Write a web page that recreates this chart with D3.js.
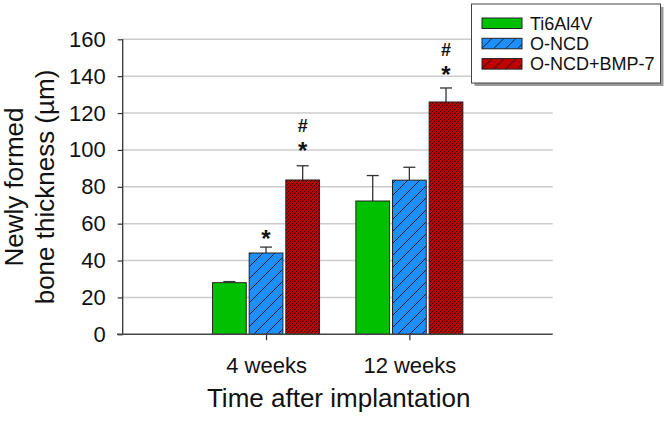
<!DOCTYPE html>
<html>
<head>
<meta charset="utf-8">
<script src="https://cdn.jsdelivr.net/npm/d3@7"></script>
<style>
  html, body { margin: 0; padding: 0; background: #fff; }
  svg { display: block; font-family: "Liberation Sans", Arial, sans-serif; }
</style>
</head>
<body>
<svg id="chart" width="668" height="421"></svg>
<script>
// ---- data ----
const categories = ["4 weeks", "12 weeks"];
const seriesNames = ["Ti6Al4V", "O-NCD", "O-NCD+BMP-7"];
const tiValues = [28.0, 72.3];
const tiErrors = [0.6, 13.8];
const oncdValues = [44.1, 83.6];
const oncdErrors = [3.2, 7.0];
const bmpValues = [83.7, 126.0];
const bmpErrors = [7.7, 7.6];
const yTicks = [0, 20, 40, 60, 80, 100, 120, 140, 160];
// significance markers
const markLabels = ["*", "*", "#", "*", "#"];
const markCategory = ["4 weeks", "4 weeks", "4 weeks", "12 weeks", "12 weeks"];
const markSeries = ["O-NCD", "O-NCD+BMP-7", "O-NCD+BMP-7", "O-NCD+BMP-7", "O-NCD+BMP-7"];
const markValue = [55, 102.7, 113.5, 144.0, 154.4];

const seriesValues = [tiValues, oncdValues, bmpValues];
const seriesErrors = [tiErrors, oncdErrors, bmpErrors];
const colors = ["#00c000", "#1e8fff", "#c00000"];
const patterns = [null, "hatchSparseBlue", "hatchDenseRed"];
const legendPatterns = [null, "hatchSparseBlue", "hatchSparseRed"];

const svg = d3.select("#chart");
const x0 = 122.7, x1 = 552.7, yTop = 39.3, yBot = 334.3;

const x = d3.scaleLinear().domain([0, 3]).range([x0, x1]);
const catPos = d3.scalePoint().domain(categories).range([1, 2]);
const inner = d3.scaleBand().domain(seriesNames).range([-53.5, 53.5]).paddingInner(0.08);
const y = d3.scaleLinear().domain([0, 160]).range([yBot, yTop]);

// patterns
const defs = svg.append("defs");
function hatch(id, color, spacing) {
  const p = defs.append("pattern").attr("id", id)
    .attr("patternUnits", "userSpaceOnUse")
    .attr("width", spacing).attr("height", spacing);
  p.append("rect").attr("width", spacing).attr("height", spacing).attr("fill", color);
  p.append("path")
    .attr("d", `M0,${spacing} L${spacing},0 M${-spacing},${spacing} L0,0 M${spacing},${2*spacing} L${2*spacing},${spacing}`)
    .attr("stroke", "#111").attr("stroke-width", 0.9);
}
hatch("hatchSparseBlue", colors[1], 12);
hatch("hatchDenseRed", colors[2], 4);
hatch("hatchSparseRed", colors[2], 12);

// gridlines
svg.append("g").selectAll("line").data(yTicks.filter(t => t > 0)).join("line")
  .attr("x1", x0).attr("x2", x1)
  .attr("y1", d => y(d)).attr("y2", d => y(d))
  .attr("stroke", "#cccccc").attr("stroke-width", 1.5);

// y axis
const yAxis = d3.axisLeft(y).tickValues(yTicks).tickSize(5).tickSizeOuter(0).tickPadding(12);
const gy = svg.append("g").attr("transform", `translate(${x0},0)`).call(yAxis);
gy.select(".domain").remove();
gy.selectAll(".tick line").attr("stroke", "#333").attr("stroke-width", 1.2);
gy.selectAll(".tick text").attr("font-size", 22).attr("fill", "#111")
  .attr("font-family", "Liberation Sans, Arial, sans-serif");
svg.append("line").attr("x1", x0).attr("x2", x0).attr("y1", yTop).attr("y2", yBot)
  .attr("stroke", "#333").attr("stroke-width", 1.3);

// bars
const barData = [];
seriesNames.forEach((s, si) => {
  categories.forEach((c, ci) => {
    barData.push({ s, si, c, v: seriesValues[si][ci], e: seriesErrors[si][ci] });
  });
});
const bx = d => x(catPos(d.c)) + inner(d.s);

// error bars (drawn behind bars)
const eg = svg.append("g");
eg.selectAll("line.v").data(barData).join("line").attr("class", "v")
  .attr("x1", d => bx(d) + inner.bandwidth() / 2).attr("x2", d => bx(d) + inner.bandwidth() / 2)
  .attr("y1", d => y(d.v)).attr("y2", d => y(d.v + d.e))
  .attr("stroke", "#333").attr("stroke-width", 1.3);
eg.selectAll("line.cap").data(barData).join("line").attr("class", "cap")
  .attr("x1", d => bx(d) + inner.bandwidth() / 2 - 6).attr("x2", d => bx(d) + inner.bandwidth() / 2 + 6)
  .attr("y1", d => y(d.v + d.e)).attr("y2", d => y(d.v + d.e))
  .attr("stroke", "#333").attr("stroke-width", 1.3);

svg.append("g").selectAll("rect").data(barData).join("rect")
  .attr("x", bx)
  .attr("y", d => y(d.v))
  .attr("width", inner.bandwidth())
  .attr("height", d => y(0) - y(d.v))
  .attr("fill", d => patterns[d.si] ? `url(#${patterns[d.si]})` : colors[d.si])
  .attr("stroke", "#222").attr("stroke-width", 1);

// x axis
svg.append("line").attr("x1", 117).attr("x2", x1).attr("y1", yBot).attr("y2", yBot)
  .attr("stroke", "#444").attr("stroke-width", 1.5);
const xAxisScale = d3.scalePoint().domain(categories).range([x(1), x(2)]);
const gx = svg.append("g").attr("transform", `translate(0,${yBot})`)
  .call(d3.axisBottom(xAxisScale).tickSize(6).tickPadding(17).tickSizeOuter(0));
gx.select(".domain").remove();
gx.selectAll(".tick line").attr("stroke", "#333").attr("stroke-width", 1.2);
gx.selectAll(".tick text").attr("font-size", 22).attr("fill", "#111")
  .attr("font-family", "Liberation Sans, Arial, sans-serif");

// markers
const marks = markLabels.map((l, i) => ({ l, c: markCategory[i], s: markSeries[i], v: markValue[i] }));
svg.append("g").selectAll("text").data(marks).join("text")
  .attr("x", d => x(catPos(d.c)) + inner(d.s) + inner.bandwidth() / 2)
  .attr("y", d => y(d.v) + (d.l === "*" ? 13.9 : 6.5))
  .attr("text-anchor", "middle").attr("font-weight", "bold").attr("fill", "#111")
  .attr("font-size", d => d.l === "*" ? 24 : 18)
  .text(d => d.l);

// axis titles
svg.append("text").attr("x", (x0 + x1) / 2 + 1).attr("y", 407)
  .attr("text-anchor", "middle").attr("font-size", 26).attr("fill", "#111")
  .text("Time after implantation");
const yt = svg.append("text").attr("transform", `translate(23,187) rotate(-90)`)
  .attr("text-anchor", "middle").attr("font-size", 26).attr("fill", "#111");
yt.append("tspan").attr("x", 0).attr("y", 0).text("Newly formed");
yt.append("tspan").attr("x", 0).attr("y", 31).text("bone thickness (µm)");

// legend
const lg = svg.append("g");
lg.append("rect").attr("x", 474.5).attr("y", 7).attr("width", 189).attr("height", 79).attr("fill", "#9a9a9a");
lg.append("rect").attr("x", 471.5).attr("y", 4).attr("width", 189).attr("height", 79)
  .attr("fill", "#fff").attr("stroke", "#444").attr("stroke-width", 1);
const rows = lg.selectAll("g.row").data(seriesNames).join("g").attr("class", "row")
  .attr("transform", (d, i) => `translate(0,${18 + i * 20.3})`);
rows.append("rect").attr("x", 482).attr("y", 0).attr("width", 40).attr("height", 10.5)
  .attr("fill", (d, i) => legendPatterns[i] ? `url(#${legendPatterns[i]})` : colors[i])
  .attr("stroke", "#222").attr("stroke-width", 1);
rows.append("text").attr("x", 530).attr("y", 11.5).attr("font-size", 18).attr("fill", "#111")
  .text(d => d);
</script>
</body>
</html>
